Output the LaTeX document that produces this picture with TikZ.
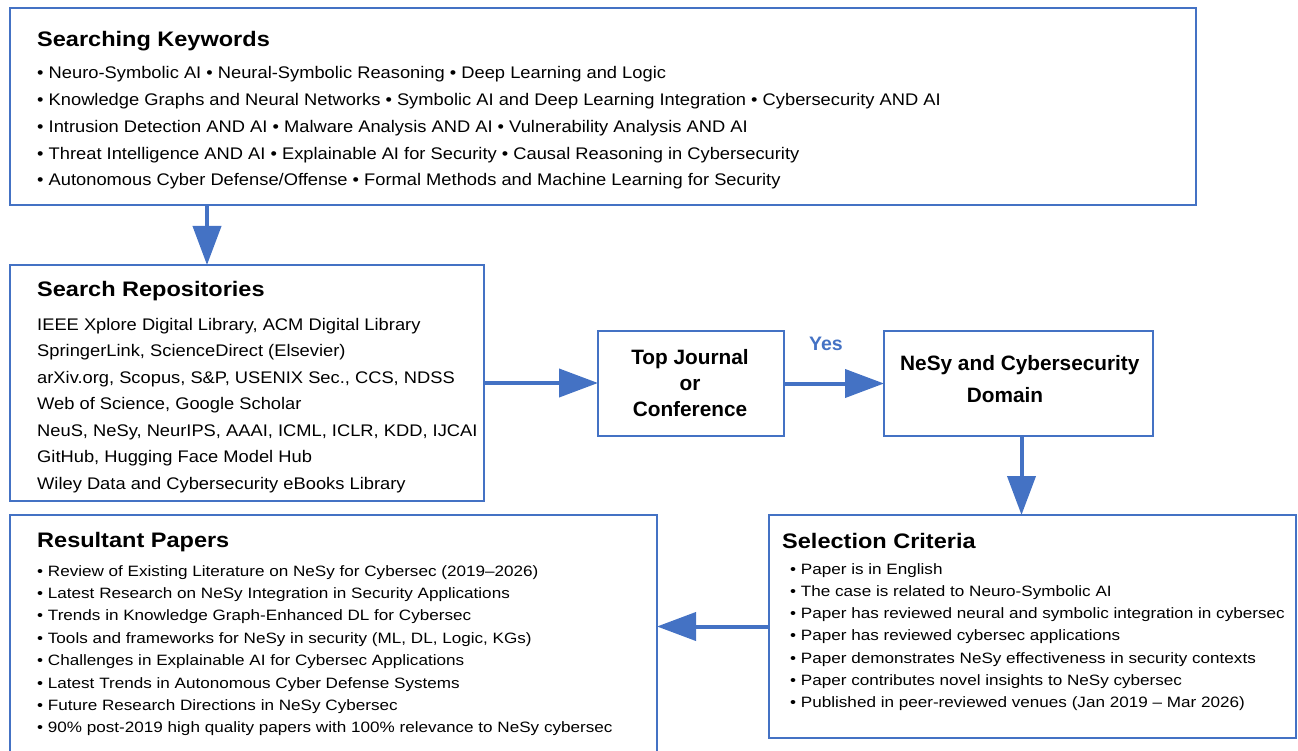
\documentclass[tikz,border=0pt]{standalone}
\usepackage{fontspec}
\setmainfont{Liberation Sans}
\newfontfamily\fbody[FakeStretch=1.09]{Liberation Sans}
\newfontfamily\fsmall[FakeStretch=1.14]{Liberation Sans}
\newfontfamily\ftitle[FakeStretch=1.12]{Liberation Sans}
\usetikzlibrary{arrows.meta}
\definecolor{boxblue}{RGB}{68,114,196}
\begin{document}
\begin{tikzpicture}[x=1pt,y=-1pt,
  box/.style={draw=boxblue, line width=2.6pt, inner sep=0pt, outer sep=0pt, anchor=north west},
  arr/.style={draw=boxblue, line width=4pt, -{Triangle[length=39pt,width=28pt]}},
  ttl/.style={anchor=base west, inner sep=0pt, font=\ftitle\fontsize{21}{25}\selectfont\bfseries},
  body/.style={anchor=base west, inner sep=0pt, font=\fbody\fontsize{16.8}{20}\selectfont},
  small/.style={anchor=base west, inner sep=0pt, font=\fsmall\fontsize{15}{18}\selectfont},
  mid/.style={anchor=base, inner sep=0pt, font=\fontsize{20.8}{24}\selectfont\bfseries},
]
\useasboundingbox (0,0) rectangle (1298,751);
\clip (0,0) rectangle (1298,751);

% boxes
\node[box, minimum width=1186pt, minimum height=197pt] (kw) at (10,8) {};
\node[box, minimum width=474pt, minimum height=236pt] (repo) at (10,265) {};
\node[box, minimum width=186pt, minimum height=105pt] (top) at (598,331) {};
\node[box, minimum width=269pt, minimum height=105pt] (dom) at (884,331) {};
\node[box, minimum width=527pt, minimum height=223pt] (sel) at (769,515) {};
\node[box, minimum width=647pt, minimum height=260pt] (res) at (10,515) {};

% keywords
\node[ttl] (kwt) at (37,47) {Searching Keywords};
\foreach \t [count=\i] in {
  {• Neuro-Symbolic AI • Neural-Symbolic Reasoning • Deep Learning and Logic},
  {• Knowledge Graphs and Neural Networks • Symbolic AI and Deep Learning Integration • Cybersecurity AND AI},
  {• Intrusion Detection AND AI • Malware Analysis AND AI • Vulnerability Analysis AND AI},
  {• Threat Intelligence AND AI • Explainable AI for Security • Causal Reasoning in Cybersecurity},
  {• Autonomous Cyber Defense/Offense • Formal Methods and Machine Learning for Security}}
  \node[body] (kw\i) at (37,{79+26.75*(\i-1)}) {\t};

% repositories
\node[ttl] (repot) at (37,297) {Search Repositories};
\foreach \t [count=\i] in {
  {IEEE Xplore Digital Library, ACM Digital Library},
  {SpringerLink, ScienceDirect (Elsevier)},
  {arXiv.org, Scopus, S\&P, USENIX Sec., CCS, NDSS},
  {Web of Science, Google Scholar},
  {NeuS, NeSy, NeurIPS, AAAI, ICML, ICLR, KDD, IJCAI},
  {GitHub, Hugging Face Model Hub},
  {Wiley Data and Cybersecurity eBooks Library}}
  \node[body] (repo\i) at (37,{330+26.5*(\i-1)}) {\t};

% middle boxes
\node[mid] (top1) at (690,364) {Top Journal};
\node[mid] (top2) at (690,390) {or};
\node[mid] (top3) at (690,416) {Conference};
\node[mid, text=boxblue, font=\fontsize{19.5}{24}\selectfont\bfseries] (yes) at (826,350) {Yes};
\node[mid, anchor=base west] (dom1) at (900,370) {NeSy and Cybersecurity};
\node[mid] (dom2) at (1005,402) {Domain};

% selection criteria
\node[ttl] (selt) at (782,548) {Selection Criteria};
\foreach \t [count=\i] in {
  {• Paper is in English},
  {• The case is related to Neuro-Symbolic AI},
  {• Paper has reviewed neural and symbolic integration in cybersec},
  {• Paper has reviewed cybersec applications},
  {• Paper demonstrates NeSy effectiveness in security contexts},
  {• Paper contributes novel insights to NeSy cybersec},
  {• Published in peer-reviewed venues (Jan 2019 – Mar 2026)}}
  \node[small] (sel\i) at (790,{574+22.3*(\i-1)}) {\t};

% resultant papers
\node[ttl] (rest) at (37,547) {Resultant Papers};
\foreach \t [count=\i] in {
  {• Review of Existing Literature on NeSy for Cybersec (2019–2026)},
  {• Latest Research on NeSy Integration in Security Applications},
  {• Trends in Knowledge Graph-Enhanced DL for Cybersec},
  {• Tools and frameworks for NeSy in security (ML, DL, Logic, KGs)},
  {• Challenges in Explainable AI for Cybersec Applications},
  {• Latest Trends in Autonomous Cyber Defense Systems},
  {• Future Research Directions in NeSy Cybersec},
  {• 90\% post-2019 high quality papers with 100\% relevance to NeSy cybersec}}
  \node[small] (res\i) at (37,{576+22.4*(\i-1)}) {\t};

% connectors
\draw[arr] ([xshift=197pt]kw.south west) -- ([xshift=197pt]repo.north west);
\draw[arr] (repo.east) -- (repo.east -| top.west);
\draw[arr] (top.east) -- (dom.west);
\draw[arr] ([xshift=3pt]dom.south) -- ([xshift=3pt]dom.south |- sel.north);
\draw[arr] (sel.west) -- (sel.west -| res.east);
\end{tikzpicture}
\end{document}
